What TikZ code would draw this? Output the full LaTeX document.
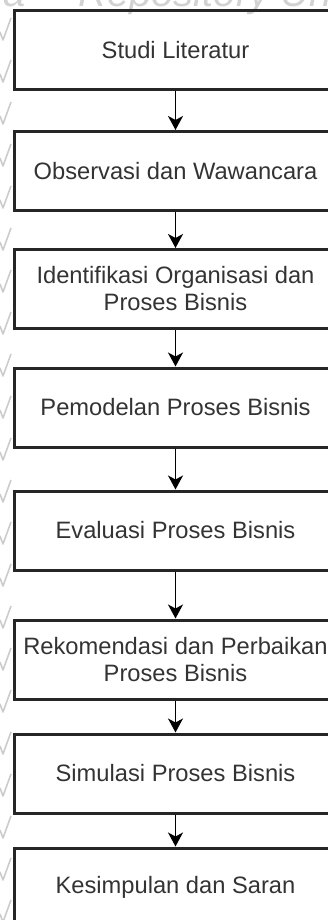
\documentclass[tikz,border=0pt]{standalone}
\usepackage{fontspec}
\setmainfont{Liberation Sans}
\usetikzlibrary{arrows.meta}

\begin{document}
\begin{tikzpicture}[x=1pt, y=-1pt,
	stepbox/.style={draw=black!85, line width=3pt, minimum width=323pt, minimum height=79pt, inner sep=0pt, align=center, text=black!80, font=\fontsize{23.7}{27}\selectfont},
	flow/.style={draw=black, line width=1.6pt, -{Stealth[length=14pt, width=15pt, inset=4pt]}},
	watermark/.style={text=gray!35, font=\fontsize{40}{40}\selectfont\itshape, inner sep=0pt}]
		\useasboundingbox (0,0) rectangle (328,920);
		% faint watermark of the repository
		\node[watermark, anchor=base east] (wm1) at (26,7) {ya};
		\node[watermark, anchor=base west] (wm2) at (78,7) {Repository Universitas};
		\foreach \y in {30,72,...,920}{
		  \draw[gray!40, line width=1.6pt, line join=round] (0,\y+2) -- (3,\y+10) -- (11,\y-12);
		}
		% steps of the research
		\node[stepbox] (s1) at (175.5,50.5) {Studi Literatur};
		\node[stepbox] (s2) at (175.5,171) {Observasi dan Wawancara};
		\node[stepbox] (s3) at (175.5,289) {Identifikasi Organisasi dan\\Proses Bisnis};
		\node[stepbox] (s4) at (175.5,407.5) {Pemodelan Proses Bisnis};
		\node[stepbox] (s5) at (175.5,530.5) {Evaluasi Proses Bisnis};
		\node[stepbox] (s6) at (175.5,659.5) {Rekomendasi dan Perbaikan\\Proses Bisnis};
		\node[stepbox] (s7) at (175.5,773.5) {Simulasi Proses Bisnis};
		\node[stepbox] (s8) at (175.5,887.5) {Kesimpulan dan Saran};
		\foreach \a/\b in {s1/s2,s2/s3,s3/s4,s4/s5,s5/s6,s6/s7,s7/s8}{
		  \draw[flow] (\a.south) -- (\b.north);
		}
\end{tikzpicture}
\end{document}
